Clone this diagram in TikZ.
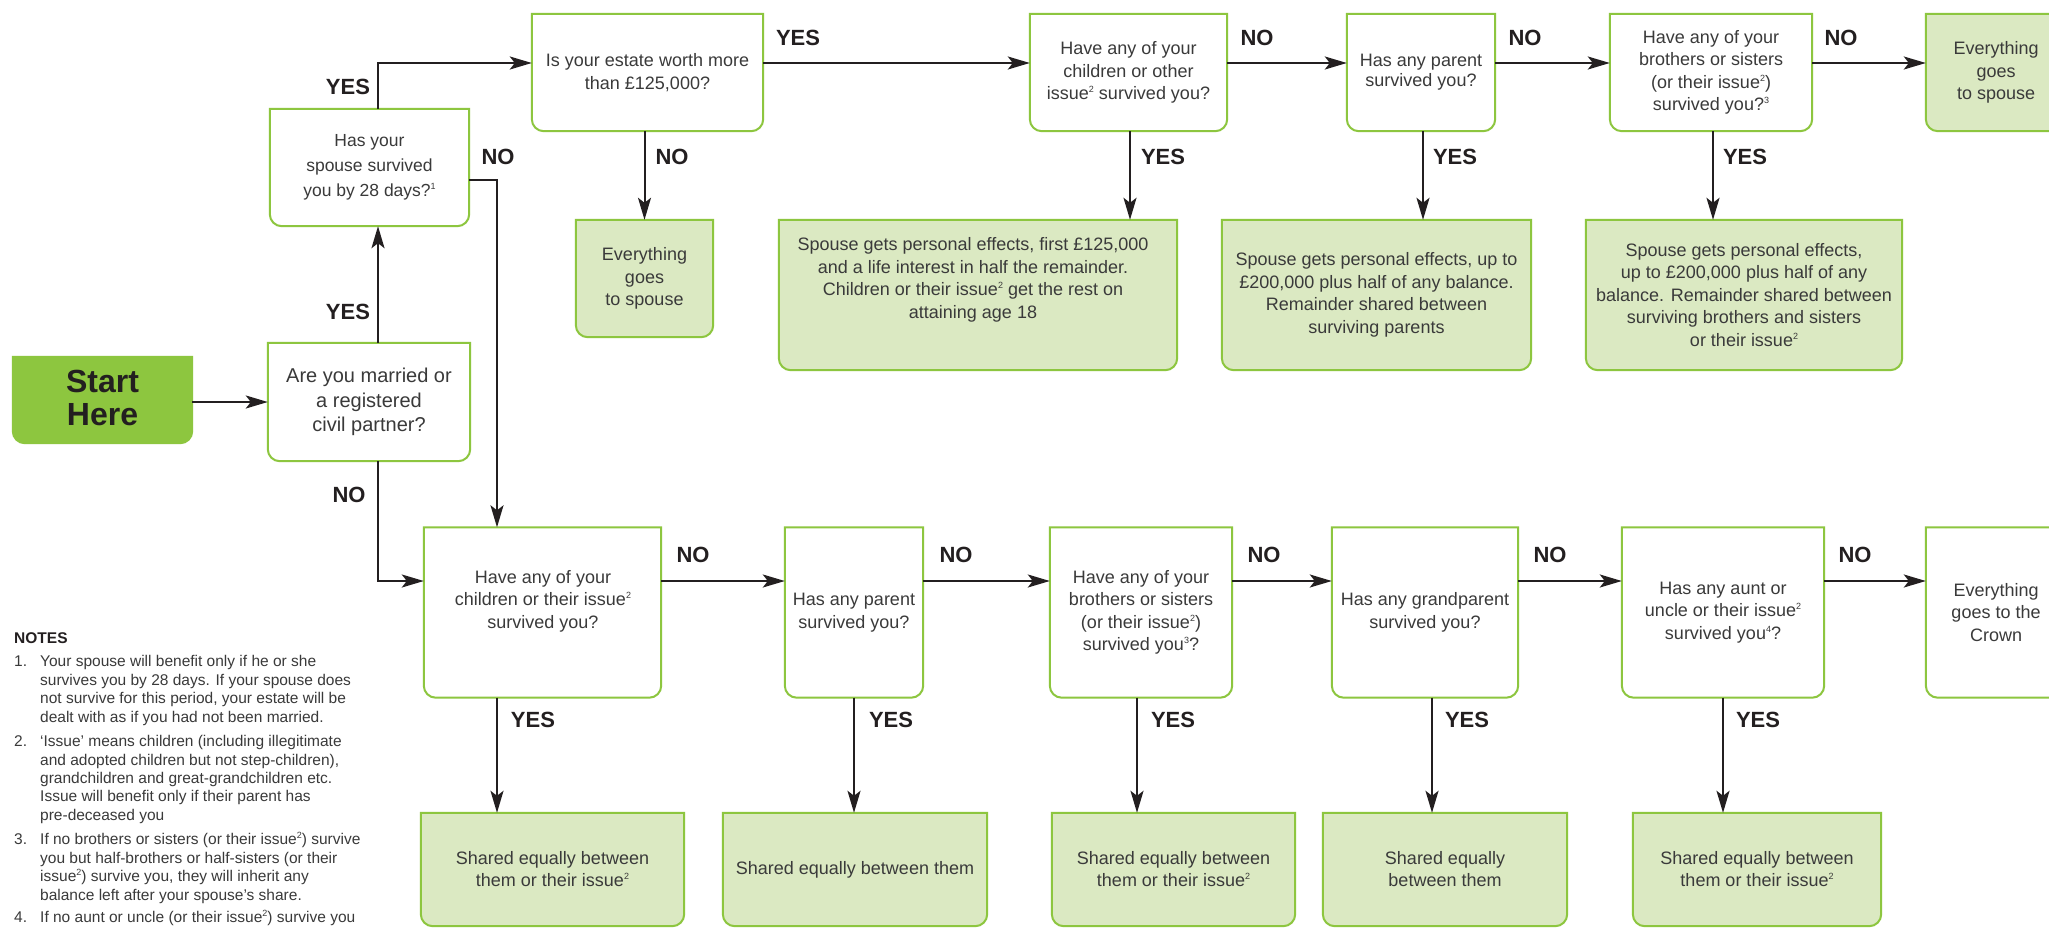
\documentclass[tikz,border=0pt]{standalone}
\usepackage{fontspec}
\setmainfont{Liberation Sans}
\usetikzlibrary{arrows.meta,backgrounds,calc}
\definecolor{gb}{RGB}{141,198,63}
\definecolor{gf}{RGB}{219,233,194}
\definecolor{tx}{RGB}{58,58,58}
\definecolor{ln}{RGB}{35,31,32}
\newcommand\bx[2]{\draw[line width=2pt, draw=gb, fill=#2] (#1.north west) -- (#1.north east) -- ([yshift=12pt]#1.south east) arc[start angle=0,end angle=-90,radius=12pt] -- ([xshift=12pt]#1.south west) arc[start angle=-90,end angle=-180,radius=12pt] -- cycle;}
\newcommand\sps[1]{\raisebox{0.75ex}{\fontsize{9}{9}\selectfont #1}}
\begin{document}
\begin{tikzpicture}[x=1pt,y=1pt,
  bnode/.style={inner sep=0pt, text=tx, align=center, font=\fontsize{18}{22.5}\selectfont},
  ttext/.style={inner sep=0pt, text=tx, align=center, font=\fontsize{18}{22.5}\selectfont},
  lab/.style={inner sep=0pt, text=ln, font=\fontsize{22}{22}\selectfont\bfseries},
  notef/.style={inner sep=0pt, text=tx, anchor=base west, font=\fontsize{15.5}{18.7}\selectfont},
  arr/.style={draw=ln, line width=2pt, -{Stealth[length=22pt,width=13pt,inset=5pt]}}]
\useasboundingbox (0,0) rectangle (2049,-928);
\clip (0,0) rectangle (2049,-928);

% named helper coordinates
\coordinate (xa) at (378,0);
\coordinate (xb) at (497,0);
\coordinate (xc) at (1130,0);
\coordinate (xp) at (1423,0);
\coordinate (xs) at (1713,0);
\coordinate (x2) at (854,0);
\coordinate (x3) at (1137,0);
\coordinate (x4) at (1432,0);
\coordinate (x5) at (1723,0);
\coordinate (ya) at (0,-63);
\coordinate (ys) at (0,-180);
\coordinate (yq) at (0,-581);

% start and first questions
\node[inner sep=0pt, minimum width=179pt, minimum height=86pt] (St) at (102.5,-400) {};
\node[inner sep=0pt, text=ln, align=center, font=\fontsize{32}{33}\selectfont\bfseries] (Stt) at (102.5,-398) {Start\\Here};
\node[bnode, minimum width=202pt, minimum height=118pt, font=\fontsize{20}{24.5}\selectfont] (M) at (369,-402) {Are you married or\\a registered\\civil partner?};
\node[bnode, minimum width=199pt, minimum height=117pt, font=\fontsize{17.5}{25}\selectfont] (S) at (369.5,-167.5) {Has your\\spouse survived\\you by 28 days?\sps{1}};

% top row
\node[bnode, minimum width=231pt, minimum height=117pt] (E) at (647.5,-72.5) {Is your estate worth more\\than £125,000?};
\node[bnode, minimum width=197pt, minimum height=117pt] (C) at (1128.5,-72.5) {Have any of your\\children or other\\issue\sps{2} survived you?};
\node[bnode, minimum width=148pt, minimum height=117pt, font=\fontsize{18}{20}\selectfont] (P) at (1421,-72.5) {Has any parent\\survived you?};
\node[bnode, minimum width=202pt, minimum height=117pt] (B) at (1711,-72.5) {Have any of your\\brothers or sisters\\(or their issue\sps{2})\\survived you?\sps{3}};
\node[bnode, minimum width=140pt, minimum height=117pt] (TR) at (1996,-72.5) {Everything\\goes\\to spouse};

\node[bnode, minimum width=137pt, minimum height=117pt] (EG) at (644.5,-278.5) {Everything\\goes\\to spouse};
\node[bnode, minimum width=398pt, minimum height=150pt] (R1t) at (978,-295) {};
\node[ttext] (R1tt) at (973,-280) {Spouse gets personal effects, first £125,000\\and a life interest in half the remainder.\\Children or their issue\sps{2} get the rest on\\attaining age 18};
\node[bnode, minimum width=309pt, minimum height=150pt] (R2t) at (1376.5,-295) {Spouse gets personal effects, up to\\£200,000 plus half of any balance.\\Remainder shared between\\surviving parents};
\node[bnode, minimum width=316pt, minimum height=150pt] (R3t) at (1744,-295) {Spouse gets personal effects,\\up to £200,000 plus half of any\\balance. Remainder shared between\\surviving brothers and sisters\\or their issue\sps{2}};

% lower row
\node[bnode, minimum width=237pt, minimum height=170pt] (Q1) at (542.5,-612.5) {};
\node[ttext] (Q1t) at (543,-601) {Have any of your\\children or their issue\sps{2}\\survived you?};
\node[bnode, minimum width=138pt, minimum height=170pt] (Q2) at (854,-612.5) {Has any parent\\survived you?};
\node[bnode, minimum width=182pt, minimum height=170pt] (Q3) at (1141,-612.5) {Have any of your\\brothers or sisters\\(or their issue\sps{2})\\survived you\sps{3}?};
\node[bnode, minimum width=186pt, minimum height=170pt] (Q4) at (1425,-612.5) {Has any grandparent\\survived you?};
\node[bnode, minimum width=202pt, minimum height=170pt] (Q5) at (1723,-612.5) {Has any aunt or\\uncle or their issue\sps{2}\\survived you\sps{4}?};
\node[bnode, minimum width=140pt, minimum height=170pt] (Q6) at (1996,-612.5) {Everything\\goes to the\\Crown};

\node[bnode, minimum width=263pt, minimum height=113pt, font=\fontsize{18}{22}\selectfont] (L1) at (552.5,-869.5) {Shared equally between\\them or their issue\sps{2}};
\node[bnode, minimum width=264pt, minimum height=113pt] (L2) at (855,-869.5) {Shared equally between them};
\node[bnode, minimum width=243pt, minimum height=113pt, font=\fontsize{18}{22}\selectfont] (L3) at (1173.5,-869.5) {Shared equally between\\them or their issue\sps{2}};
\node[bnode, minimum width=244pt, minimum height=113pt, font=\fontsize{18}{22}\selectfont] (L4) at (1445,-869.5) {Shared equally\\between them};
\node[bnode, minimum width=248pt, minimum height=113pt, font=\fontsize{18}{22}\selectfont] (L5) at (1757,-869.5) {Shared equally between\\them or their issue\sps{2}};

\begin{scope}[on background layer]
\fill[white] (0,0) rectangle (2049,-928);
\bx{St}{gb}
\bx{M}{white}\bx{S}{white}\bx{E}{white}\bx{C}{white}\bx{P}{white}\bx{B}{white}
\bx{TR}{gf}\bx{EG}{gf}\bx{R1t}{gf}\bx{R2t}{gf}\bx{R3t}{gf}
\bx{Q1}{white}\bx{Q2}{white}\bx{Q3}{white}\bx{Q4}{white}\bx{Q5}{white}\bx{Q6}{white}
\bx{L1}{gf}\bx{L2}{gf}\bx{L3}{gf}\bx{L4}{gf}\bx{L5}{gf}
\end{scope}

% connectors
\draw[arr] (St.east |- M) -- (M.west);
\draw[arr] (M.north -| xa) -- (S.south -| xa);
\draw[arr] (S.north -| xa) -- (xa |- ya) -- (E.west |- ya);
\draw[arr] (S.east |- ys) -- (xb |- ys) -- (Q1.north -| xb);
\draw[arr] (M.south -| xa) -- (xa |- yq) -- (Q1.west |- yq);
\draw[arr] (E.east |- ya) -- (C.west |- ya);
\draw[arr] (C.east |- ya) -- (P.west |- ya);
\draw[arr] (P.east |- ya) -- (B.west |- ya);
\draw[arr] (B.east |- ya) -- (TR.west |- ya);
\draw[arr] (E.south -| EG) -- (EG.north);
\draw[arr] (C.south -| xc) -- (R1t.north -| xc);
\draw[arr] (P.south -| xp) -- (R2t.north -| xp);
\draw[arr] (B.south -| xs) -- (R3t.north -| xs);
\draw[arr] (Q1.east |- yq) -- (Q2.west |- yq);
\draw[arr] (Q2.east |- yq) -- (Q3.west |- yq);
\draw[arr] (Q3.east |- yq) -- (Q4.west |- yq);
\draw[arr] (Q4.east |- yq) -- (Q5.west |- yq);
\draw[arr] (Q5.east |- yq) -- (Q6.west |- yq);
\draw[arr] (Q1.south -| xb) -- (L1.north -| xb);
\draw[arr] (Q2.south -| x2) -- (L2.north -| x2);
\draw[arr] (Q3.south -| x3) -- (L3.north -| x3);
\draw[arr] (Q4.south -| x4) -- (L4.north -| x4);
\draw[arr] (Q5.south -| x5) -- (L5.north -| x5);

% labels
\node[lab] (y1) at (348,-87) {YES};
\node[lab] (y2) at (348,-312) {YES};
\node[lab] (n1) at (498,-157) {NO};
\node[lab] (n2) at (349,-495) {NO};
\node[lab] (y3) at (798,-38) {YES};
\node[lab] (n3) at (672,-157) {NO};
\node[lab] (n4) at (1257,-38) {NO};
\node[lab] (y4) at (1163,-157) {YES};
\node[lab] (y5) at (1455,-157) {YES};
\node[lab] (n5) at (1525,-38) {NO};
\node[lab] (y6) at (1745,-157) {YES};
\node[lab] (n6) at (1841,-38) {NO};
\node[lab] (n7) at (693,-555) {NO};
\node[lab] (n8) at (956,-555) {NO};
\node[lab] (n9) at (1264,-555) {NO};
\node[lab] (n10) at (1550,-555) {NO};
\node[lab] (n11) at (1855,-555) {NO};
\node[lab] (y7) at (533,-720) {YES};
\node[lab] (y8) at (891,-720) {YES};
\node[lab] (y9) at (1173,-720) {YES};
\node[lab] (y10) at (1467,-720) {YES};
\node[lab] (y11) at (1758,-720) {YES};

% notes
\node[notef, font=\fontsize{15.5}{18.7}\selectfont\bfseries, text=ln] (nh) at (14,-643) {NOTES};
\node[notef] (k1) at (14,-666.5) {1.};
\node[notef] (a1) at (40,-666.5) {Your spouse will benefit only if he or she};
\node[notef] (a2) at (40,-685.5) {survives you by 28 days. If your spouse does};
\node[notef] (a3) at (40,-703.5) {not survive for this period, your estate will be};
\node[notef] (a4) at (40,-722.5) {dealt with as if you had not been married.};
\node[notef] (k2) at (14,-746.5) {2.};
\node[notef] (b1) at (40,-746.5) {‘Issue’ means children (including illegitimate};
\node[notef] (b2) at (40,-765.5) {and adopted children but not step-children),};
\node[notef] (b3) at (40,-783.5) {grandchildren and great-grandchildren etc.};
\node[notef] (b4) at (40,-801.5) {Issue will benefit only if their parent has};
\node[notef] (b5) at (40,-820.5) {pre-deceased you};
\node[notef] (k3) at (14,-844.5) {3.};
\node[notef] (c1) at (40,-844.5) {If no brothers or sisters (or their issue\sps{2}) survive};
\node[notef] (c2) at (40,-863.5) {you but half-brothers or half-sisters (or their};
\node[notef] (c3) at (40,-881.5) {issue\sps{2}) survive you, they will inherit any};
\node[notef] (c4) at (40,-900.5) {balance left after your spouse’s share.};
\node[notef] (k4) at (14,-922.5) {4.};
\node[notef] (d1) at (40,-922.5) {If no aunt or uncle (or their issue\sps{2}) survive you};
\end{tikzpicture}
\end{document}
